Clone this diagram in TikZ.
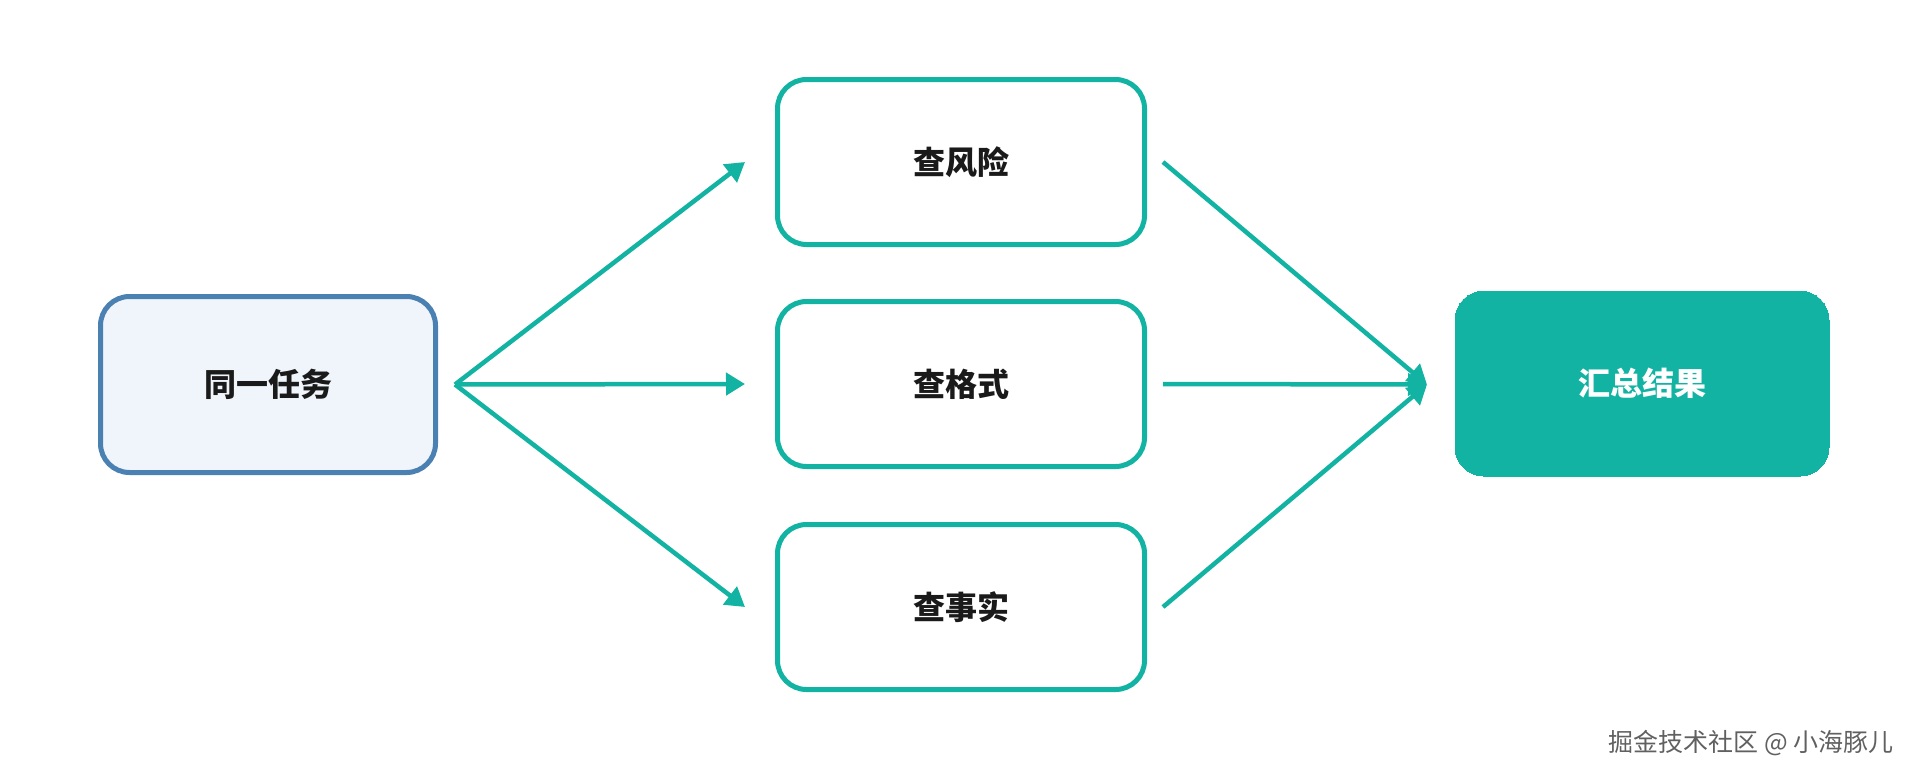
\documentclass[tikz,border=0pt]{standalone}
\usepackage{fontspec}
\setmainfont{Noto Sans CJK SC}
\usetikzlibrary{arrows.meta,positioning}
\definecolor{flowteal}{HTML}{12B3A2}
\definecolor{taskblue}{HTML}{4B80B3}
\definecolor{taskfill}{HTML}{EFF5FB}
\definecolor{textdark}{HTML}{1A1A1A}
\definecolor{markgray}{HTML}{606060}
\tikzset{
  box/.style={draw=flowteal,line width=5pt,rounded corners=29pt,fill=white,
    minimum width=367pt,minimum height=165pt,inner sep=0pt,text=textdark,
    font=\bfseries\fontsize{32}{38}\selectfont},
  flow/.style={draw=flowteal,line width=4.5pt,-{Triangle[length=19pt,width=22pt]}}
}
\begin{document}
\begin{tikzpicture}[x=1pt,y=1pt]
  \useasboundingbox (0,0) rectangle (1920,-780);

  % start and result
  \node[box,draw=taskblue,fill=taskfill,minimum width=335pt,minimum height=176pt] (task) at (268,-384.5) {同一任务};
  \node[box,fill=flowteal,line width=0pt,minimum width=374pt,minimum height=185pt,text=white] (sum) at (1642,-383.5) {汇总结果};

  % the three checks
  \node[box] (risk) at (961,-162) {查风险};
  \node[box] (format) at (961,-384) {查格式};
  \node[box] (fact) at (961,-607) {查事实};

  \coordinate (fork) at ([xshift=17pt]task.east);
  \coordinate (join) at ([xshift=-28pt,yshift=-1pt]sum.west);

  \foreach \chk in {risk,format,fact}{
    \draw[flow] (fork) -- ([xshift=-30pt]\chk.west);
    \draw[flow] ([xshift=16pt]\chk.east) -- (join);
  }

  \node[text=markgray,font=\fontsize{25}{30}\selectfont,anchor=east] (mark) at (1897,-743) {掘金技术社区 @ 小海豚儿};
\end{tikzpicture}
\end{document}
